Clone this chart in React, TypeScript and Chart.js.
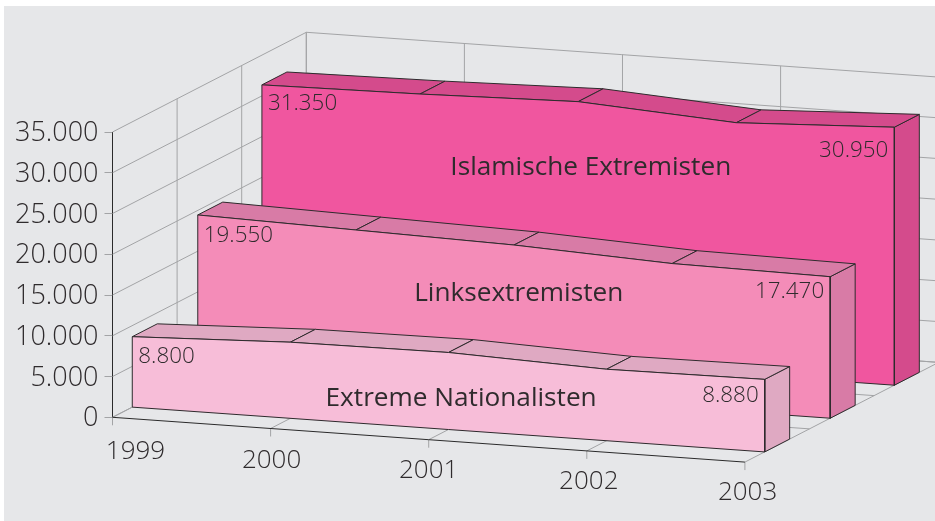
import React, { useEffect, useRef } from "react";
import { Chart, registerables } from "chart.js";

Chart.register(...registerables);

const years = [1999, 2000, 2001, 2002, 2003];
const yTicks = [0, 5000, 10000, 15000, 20000, 25000, 30000, 35000];

// Heights as drawn in the picture; the printed labels are kept separately below.
const nationalisten = [8640, 9340, 9450, 8770, 8900];
const linke = [19440, 18970, 18500, 17600, 17360];
const islamisten = [31350, 31600, 32040, 30830, 31650];

const seriesNames = ["Extreme Nationalisten", "Linksextremisten", "Islamische Extremisten"];
const startLabels = ["8.800", "19.550", "31.350"];
const endLabels = ["8.880", "17.470", "30.950"];

const frontColors = ["#f7bdd8", "#f48cb8", "#f0569f"];
const sideColors = ["#dfa9c2", "#d87ba6", "#d44b8c"];
const INK = "#2f2b2d";
const EDGE = "#2e2b2d";
const GRID = "#a3a4a6";
const PANEL = "#e6e7e9";

// Oblique 3D: depth and the tilt of the year axis become shifts in data units.
const X_PER_DEPTH = 1.2258;
const V_PER_YEAR = 1374;
const V_PER_DEPTH = 12233;
const project = (year: number, value: number, depth: number) => ({
  x: year + depth * X_PER_DEPTH,
  y: value - (year - 1999) * V_PER_YEAR + depth * V_PER_DEPTH,
});

const FRONT = [0.102, 0.44, 0.771];
const THICK = 0.129;
const WALL_DEPTHS = [0, 1 / 3, 2 / 3, 1];

const line = (points: any[], color: string, extra: any = {}) => ({
  data: points,
  showLine: true,
  borderColor: color,
  borderWidth: 1,
  pointRadius: 0,
  tension: 0,
  clip: false,
  ...extra,
});
const face = (points: any[], fill: string) =>
  line([...points, points[0]], EDGE, { polyFill: fill, backgroundColor: fill });

function buildDatasets() {
  const layers: any[] = [];
  const y0 = years[0];
  const y1 = years[years.length - 1];
  const top = yTicks[yTicks.length - 1];
  // left and back walls
  for (const v of yTicks) {
    layers.push(line([project(y0, v, 0), project(y0, v, 1)], GRID));
    layers.push(line([project(y0, v, 1), project(y1, v, 1)], GRID));
  }
  for (const d of WALL_DEPTHS.slice(1)) {
    layers.push(line([project(y0, 0, d), project(y0, top, d)], GRID));
  }
  for (const yr of years) {
    layers.push(line([project(yr, 0, 1), project(yr, top, 1)], GRID));
    layers.push(line([project(yr, 0, 0), project(yr, 0, 1)], GRID));
    layers.push(line([project(yr, -980, 0), project(yr, 0, 0)], GRID));
  }
  // floor
  for (const d of WALL_DEPTHS.slice(1)) {
    layers.push(line([project(y0, 0, d), project(y1, 0, d)], GRID));
  }
  layers.push(line([project(y0, 0, 0), project(y1, 0, 0)], "#2b2b2b"));

  // series, back to front
  const all = [nationalisten, linke, islamisten];
  for (let s = all.length - 1; s >= 0; s--) {
    const vals = all[s];
    const f = FRONT[s];
    const b = f + THICK;
    // right end
    const last = years.length - 1;
    layers.push(
      face(
        [
          project(years[last], 0, f),
          project(years[last], 0, b),
          project(years[last], vals[last], b),
          project(years[last], vals[last], f),
        ],
        sideColors[s]
      )
    );
    // top strips
    for (let i = 0; i < last; i++) {
      layers.push(
        face(
          [
            project(years[i], vals[i], f),
            project(years[i], vals[i], b),
            project(years[i + 1], vals[i + 1], b),
            project(years[i + 1], vals[i + 1], f),
          ],
          sideColors[s]
        )
      );
    }
    // front
    layers.push(
      face(
        [
          project(years[0], 0, f),
          ...years.map((yr, i) => project(yr, vals[i], f)),
          project(years[last], 0, f),
        ],
        frontColors[s]
      )
    );
  }
  return layers.reverse();
}

// Small pixel nudges of the printed texts against their anchor points.
const startDy = [19.7, 20.7, 18.7];
const endDy = [16, 14.7, 23.5];
const yearLabelNudgeX = [23, 1, 0, 2, 2.7];
const yearLabelNudgeY = [34.7, 32.2, 30.7, 30.4, 30.4];
const nameAnchors = [
  { year: 2001.08, value: 3950 },
  { year: 2001.03, value: 12630 },
  { year: 2001.08, value: 24120 },
];

const polyFillPlugin = {
  id: "polyFill",
  beforeDatasetDraw(chart: any, args: any) {
    const ds = chart.data.datasets[args.index];
    if (!ds.polyFill) return;
    const pts = args.meta.data;
    const ctx = chart.ctx;
    ctx.save();
    ctx.beginPath();
    pts.forEach((p: any, i: number) => (i ? ctx.lineTo(p.x, p.y) : ctx.moveTo(p.x, p.y)));
    ctx.closePath();
    ctx.fillStyle = ds.polyFill;
    ctx.fill();
    ctx.restore();
  },
};

const panelPlugin = {
  id: "panel",
  beforeDraw(chart: any) {
    const ctx = chart.ctx;
    ctx.save();
    ctx.fillStyle = PANEL;
    ctx.fillRect(4, 6, chart.width - 4, chart.height - 6);
    ctx.restore();
  },
};

const textPlugin = {
  id: "texts",
  afterDatasetsDraw(chart: any) {
    const { ctx, scales } = chart;
    const px = (p: { x: number; y: number }) => ({
      x: scales.x.getPixelForValue(p.x),
      y: scales.y.getPixelForValue(p.y),
    });
    ctx.save();
    ctx.fillStyle = INK;
    ctx.textBaseline = "middle";
    // year labels
    ctx.font = '300 26px "Open Sans"';
    ctx.textAlign = "center";
    years.forEach((yr, i) => {
      const p = px(project(yr, 0, 0));
      ctx.fillText(String(yr), p.x + yearLabelNudgeX[i], p.y + yearLabelNudgeY[i]);
    });
    // series names
    ctx.font = '400 26.2px "Open Sans"';
    seriesNames.forEach((name, s) => {
      const p = px(project(nameAnchors[s].year, nameAnchors[s].value, FRONT[s]));
      ctx.fillText(name, p.x, p.y);
    });
    // printed values
    ctx.font = '300 22.4px "Open Sans"';
    const vals = [nationalisten, linke, islamisten];
    vals.forEach((v, s) => {
      const a = px(project(years[0], v[0], FRONT[s]));
      ctx.textAlign = "left";
      ctx.fillText(startLabels[s], a.x + 6, a.y + startDy[s]);
      const last = years.length - 1;
      const b = px(project(years[last], v[last], FRONT[s]));
      ctx.textAlign = "right";
      ctx.fillText(endLabels[s], b.x - 6, b.y + endDy[s]);
    });
    ctx.restore();
  },
};

export default function App() {
  const ref = useRef<HTMLCanvasElement>(null);
  useEffect(() => {
    document.body.style.margin = "0";
    document.body.style.background = "#fff";
    const chart = new Chart(ref.current as HTMLCanvasElement, {
      type: "scatter",
      data: { datasets: buildDatasets() as any },
      plugins: [panelPlugin, polyFillPlugin, textPlugin],
      options: {
        animation: false,
        responsive: false,
        events: [],
        layout: { padding: { top: 132, bottom: 103.7, left: 0, right: 0 } },
        plugins: { legend: { display: false }, tooltip: { enabled: false }, title: { display: false } },
        scales: {
          x: { type: "linear", display: false, min: 1999, max: 1999 + 822.5 / 158.1 },
          y: {
            type: "linear",
            min: 0,
            max: 35000,
            afterFit(scale: any) {
              scale.width = 112.5;
            },
            border: { color: "#2b2b2b", width: 1 },
            grid: { drawOnChartArea: false, tickColor: GRID, tickLength: 8 },
            ticks: {
              stepSize: 5000,
              padding: 6,
              labelOffset: 1.5,
              color: INK,
              font: { family: "Open Sans", size: 27, weight: "300" },
              callback: (v: any) => String(v).replace(/\B(?=(\d{3})+$)/g, "."),
            },
          },
        },
      } as any,
    });
    return () => chart.destroy();
  }, []);
  return <canvas ref={ref} width={935} height={521} style={{ display: "block" }} />;
}
